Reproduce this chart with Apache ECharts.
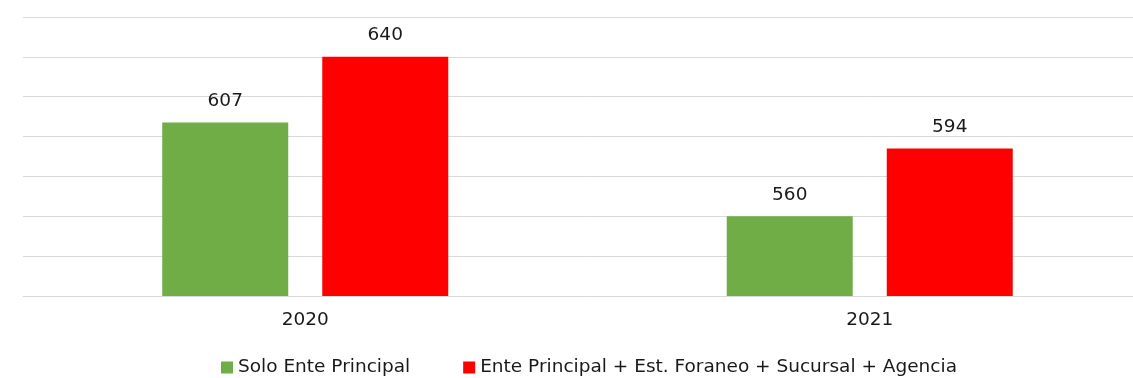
<!DOCTYPE html>
<html>
<head>
<meta charset="utf-8">
<script src="https://cdn.jsdelivr.net/npm/echarts@6/dist/echarts.min.js"></script>
<style>
html,body{margin:0;padding:0;background:#fff;overflow:hidden;width:1133px;height:378px;}
#chart{width:1152px;height:378px;}
</style>
</head>
<body>
<div id="chart"></div>
<script>
var categories = ['2020', '2021'];
var seriesNames = ['Solo Ente Principal', 'Ente Principal + Est. Foraneo + Sucursal + Agencia'];
var soloEnte = [607, 560];
var enteTotal = [640, 594];

var font = 'DejaVu Sans, Verdana, sans-serif';
var chart = echarts.init(document.getElementById('chart'));
chart.setOption({
  animation: false,
  backgroundColor: '#ffffff',
  textStyle: { fontFamily: font },
  grid: { left: 23, right: 0, top: 17, bottom: 82, containLabel: false },
  legend: {
    left: 221, top: 358, padding: 0,
    itemWidth: 12, itemHeight: 12, itemGap: 53,
    icon: 'rect',
    textStyle: { fontFamily: font, fontSize: 18.5, color: '#1a1a1a' },
    data: seriesNames
  },
  xAxis: {
    type: 'category',
    data: categories,
    axisLine: { lineStyle: { color: '#d9d9d9', width: 1 } },
    axisTick: { show: false },
    axisLabel: { fontFamily: font, fontSize: 18.5, color: '#1a1a1a', margin: 15 }
  },
  yAxis: {
    type: 'value',
    min: 520, max: 660, interval: 20,
    axisLabel: { show: false },
    axisLine: { show: false },
    axisTick: { show: false },
    splitLine: { lineStyle: { color: '#d9d9d9', width: 1 } }
  },
  series: [
    {
      name: seriesNames[0], type: 'bar', data: soloEnte,
      barWidth: 126, barGap: '27%',
      itemStyle: { color: '#70AD47' },
      label: { show: true, position: 'top', distance: 12, fontFamily: font, fontSize: 18.5, color: '#1a1a1a' }
    },
    {
      name: seriesNames[1], type: 'bar', data: enteTotal,
      barWidth: 126, barGap: '27%',
      itemStyle: { color: '#FF0000' },
      label: { show: true, position: 'top', distance: 12, fontFamily: font, fontSize: 18.5, color: '#1a1a1a' }
    }
  ]
});
</script>
</body>
</html>
